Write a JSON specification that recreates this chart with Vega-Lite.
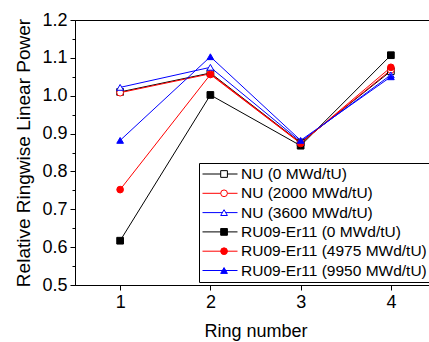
{
  "$schema": "https://vega.github.io/schema/vega-lite/v6.json",
  "width": 361,
  "height": 265,
  "autosize": {"type": "none"},
  "padding": {"left": 75, "top": 20, "right": 0, "bottom": 57},
  "background": "white",
  "config": {
    "font": "Liberation Sans",
    "view": {"stroke": "#000", "strokeWidth": 1},
    "axis": {
      "domainColor": "#000", "tickColor": "#000", "labelColor": "#000", "titleColor": "#000",
      "labelFontSize": 18, "titleFontSize": 18, "titleFontWeight": "normal", "grid": false,
      "labelFont": "Liberation Sans", "titleFont": "Liberation Sans",
      "tickSize": 5, "domainWidth": 1, "tickWidth": 1
    },
    "legend": {"labelFont": "Liberation Sans", "labelFontSize": 15, "labelColor": "#000"}
  },
  "data": {
    "values": [
      {"ring": 1, "v": 1.010, "s": "NU (0 MWd/tU)", "series": "NU (0 MWd/tU)"},
      {"ring": 2, "v": 1.060, "s": "NU (0 MWd/tU)", "series": "NU (0 MWd/tU)"},
      {"ring": 3, "v": 0.876, "s": "NU (0 MWd/tU)", "series": "NU (0 MWd/tU)"},
      {"ring": 4, "v": 1.065, "s": "NU (0 MWd/tU)", "series": "NU (0 MWd/tU)"},
      {"ring": 1, "v": 1.008, "s": "NU (2000 MWd/tU)", "series": "NU (2000 MWd/tU)"},
      {"ring": 2, "v": 1.058, "s": "NU (2000 MWd/tU)", "series": "NU (2000 MWd/tU)"},
      {"ring": 3, "v": 0.875, "s": "NU (2000 MWd/tU)", "series": "NU (2000 MWd/tU)"},
      {"ring": 4, "v": 1.068, "s": "NU (2000 MWd/tU)", "series": "NU (2000 MWd/tU)"},
      {"ring": 1, "v": 1.022, "s": "NU (3600 MWd/tU)", "series": "NU (3600 MWd/tU)"},
      {"ring": 2, "v": 1.075, "s": "NU (3600 MWd/tU)", "series": "NU (3600 MWd/tU)"},
      {"ring": 3, "v": 0.879, "s": "NU (3600 MWd/tU)", "series": "NU (3600 MWd/tU)"},
      {"ring": 4, "v": 1.055, "s": "NU (3600 MWd/tU)", "series": "NU (3600 MWd/tU)"},
      {"ring": 1, "v": 0.617, "s": "RU09-Er11 (0 MWd/tU)", "series": "RU09-Er11 (0 MWd/tU)"},
      {"ring": 2, "v": 1.002, "s": "RU09-Er11 (0 MWd/tU)", "series": "RU09-Er11 (0 MWd/tU)"},
      {"ring": 3, "v": 0.868, "s": "RU09-Er11 (0 MWd/tU)", "series": "RU09-Er11 (0 MWd/tU)"},
      {"ring": 4, "v": 1.107, "s": "RU09-Er11 (0 MWd/tU)", "series": "RU09-Er11 (0 MWd/tU)"},
      {"ring": 1, "v": 0.752, "s": "RU09-Er11 (4975 MWd/tU)", "series": "RU09-Er11 (4975 MWd/tU)"},
      {"ring": 2, "v": 1.056, "s": "RU09-Er11 (4975 MWd/tU)", "series": "RU09-Er11 (4975 MWd/tU)"},
      {"ring": 3, "v": 0.874, "s": "RU09-Er11 (4975 MWd/tU)", "series": "RU09-Er11 (4975 MWd/tU)"},
      {"ring": 4, "v": 1.075, "s": "RU09-Er11 (4975 MWd/tU)", "series": "RU09-Er11 (4975 MWd/tU)"},
      {"ring": 1, "v": 0.882, "s": "RU09-Er11 (9950 MWd/tU)", "series": "RU09-Er11 (9950 MWd/tU)"},
      {"ring": 2, "v": 1.103, "s": "RU09-Er11 (9950 MWd/tU)", "series": "RU09-Er11 (9950 MWd/tU)"},
      {"ring": 3, "v": 0.882, "s": "RU09-Er11 (9950 MWd/tU)", "series": "RU09-Er11 (9950 MWd/tU)"},
      {"ring": 4, "v": 1.050, "s": "RU09-Er11 (9950 MWd/tU)", "series": "RU09-Er11 (9950 MWd/tU)"}
    ]
  },
  "layer": [
    {
      "mark": {"type": "line", "strokeWidth": 1},
      "encoding": {
        "x": {
          "field": "ring", "type": "quantitative",
          "scale": {"domain": [0.5, 4.5], "nice": false, "zero": false},
          "axis": {"values": [1, 2, 3, 4], "format": "d", "title": "Ring number", "labelPadding": 3, "titlePadding": 11, "labelFlush": false}
        },
        "y": {
          "field": "v", "type": "quantitative",
          "scale": {"domain": [0.5, 1.2], "nice": false, "zero": false},
          "axis": {"values": [0.5, 0.6, 0.7, 0.8, 0.9, 1.0, 1.1, 1.2], "format": ".1f", "title": "Relative Ringwise Linear Power", "titlePadding": 8, "labelPadding": 3, "titleFontSize": 19, "labelFlush": false}
        },
        "color": {
          "field": "s", "type": "nominal",
          "scale": {"range": ["#000000", "#ff0000", "#0000ff", "#000000", "#ff0000", "#0000ff"]},
          "legend": {"title": null, "orient": "none", "legendX": 124, "legendY": 143, "symbolType": "stroke", "symbolSize": 1225, "symbolStrokeWidth": 1, "symbolOffset": 0, "labelOffset": 3, "clipHeight": 16, "rowPadding": 2.3, "padding": 3, "strokeColor": "#000000", "fillColor": "#ffffff", "labelFontSize": 15.5, "labelLimit": 400}
        }
      }
    },
    {
      "mark": {"type": "point", "filled": true, "opacity": 1, "strokeWidth": 1, "size": 45},
      "encoding": {
        "x": {"field": "ring", "type": "quantitative"},
        "y": {
          "field": "v", "type": "quantitative",
          "axis": {"orient": "left", "values": [0.55, 0.65, 0.75, 0.85, 0.95, 1.05, 1.15], "labels": false, "domain": false, "ticks": true, "tickSize": 3, "title": null, "grid": false}
        },
        "stroke": {
          "field": "series", "type": "nominal",
          "scale": {"range": ["#000000", "#ff0000", "#0000ff", "#000000", "#ff0000", "#0000ff"]},
          "legend": {"title": null, "orient": "none", "legendX": 124, "legendY": 143, "symbolSize": 45, "symbolStrokeWidth": 1, "symbolOffset": 14.3, "labelOffset": 3, "clipHeight": 16, "rowPadding": 2.3, "padding": 3, "labelExpr": "''", "labelFontSize": 15.5}
        },
        "fill": {
          "field": "series", "type": "nominal",
          "scale": {"range": ["#ffffff", "#ffffff", "#ffffff", "#000000", "#ff0000", "#0000ff"]},
          "legend": {"title": null, "orient": "none", "legendX": 124, "legendY": 143, "symbolSize": 45, "symbolStrokeWidth": 1, "symbolOffset": 14.3, "labelOffset": 3, "clipHeight": 16, "rowPadding": 2.3, "padding": 3, "labelExpr": "''", "labelFontSize": 15.5}
        },
        "shape": {
          "field": "series", "type": "nominal",
          "scale": {"range": ["square", "circle", "triangle-up", "square", "circle", "triangle-up"]},
          "legend": {"title": null, "orient": "none", "legendX": 124, "legendY": 143, "symbolSize": 45, "symbolStrokeWidth": 1, "symbolOffset": 14.3, "labelOffset": 3, "clipHeight": 16, "rowPadding": 2.3, "padding": 3, "labelExpr": "''", "labelFontSize": 15.5}
        }
      }
    }
  ],
  "resolve": {"axis": {"y": "independent"}}
}
